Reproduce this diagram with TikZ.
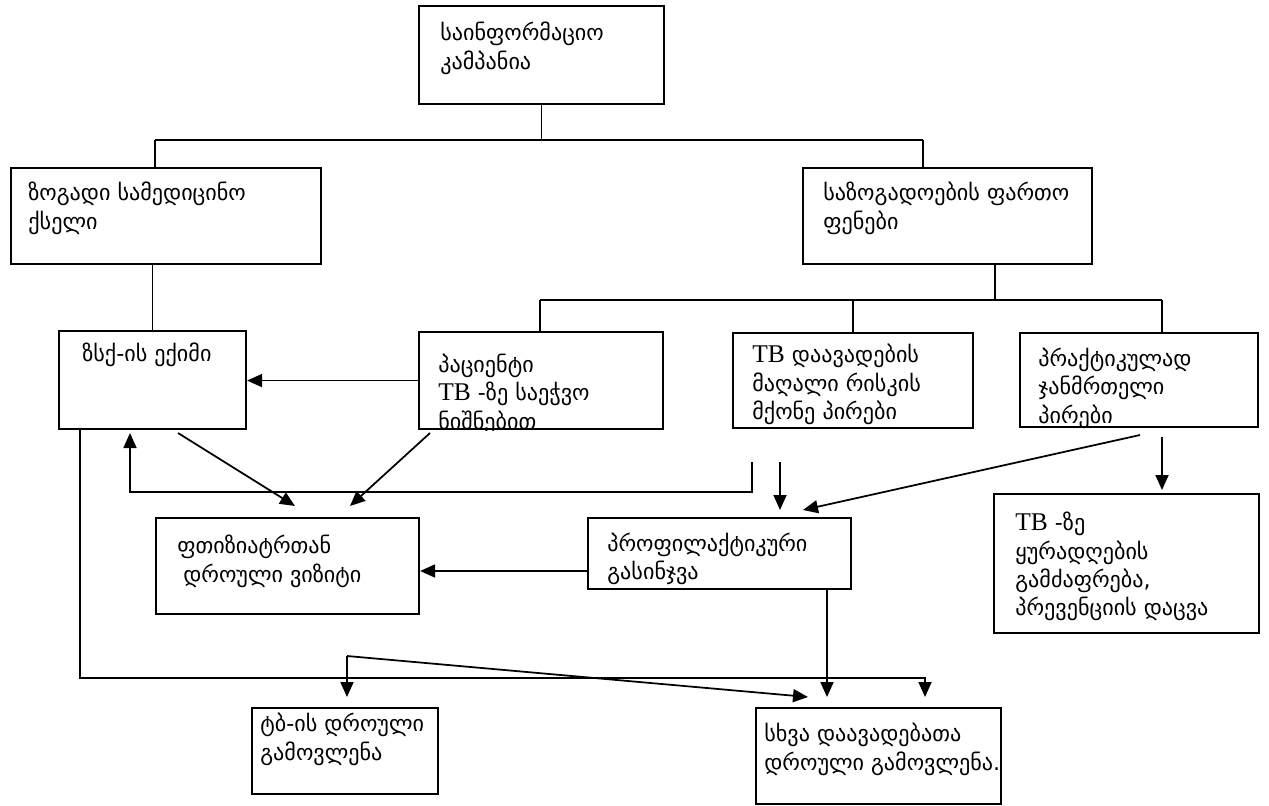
\documentclass[tikz,border=0pt]{standalone}
\usepackage{fontspec}
\setmainfont{Liberation Serif}
\newfontfamily\geofont{DejaVu Sans}
\newcommand{\tbname}{{\rmfamily\fontsize{14.5}{16}\selectfont TB}}
\usetikzlibrary{arrows.meta}

\begin{document}
\begin{tikzpicture}

      \tikzset{box/.style={draw, line width=1.2pt, anchor=north west, inner sep=0pt},
               txt/.style={anchor=north west, inner sep=0pt, align=left, font=\geofont\fontsize{12.6}{16}\selectfont},
               arr/.style={-{Triangle[length=3mm,width=2.6mm]}, line width=1pt},
               ln/.style={line width=1pt}}
      \useasboundingbox (0,0) rectangle (25.38,-16.1);
% Boxes
	%top
      	\node[box, minimum width=4.9cm, minimum height=1.96cm] (kampania) at (8.36,-0.10) {};
      	\node[box, minimum width=6.2cm, minimum height=1.92cm] (qseli) at (0.2,-3.34) {};
    	\node[box, minimum width=5.78cm, minimum height=1.92cm] (fenebi) at (16.04,-3.34) {};
	%middle
  	    \node[box, minimum width=3.74cm, minimum height=1.96cm] (eqimi) at (1.16,-6.6) {};
  	    \node[box, minimum width=4.88cm, minimum height=1.94cm] (pacienti) at (8.36,-6.62) {};
  	    \node[box, minimum width=4.8cm, minimum height=1.9cm] (riski) at (14.64,-6.64) {};
  	    \node[box, minimum width=4.76cm, minimum height=1.88cm] (janmrteli) at (20.38,-6.64) {};
		\node[box, minimum width=5.26cm, minimum height=1.92cm] (vizit) at (3.1,-10.34) {};
		\node[box, minimum width=5.26cm, minimum height=1.42cm] (gasinjva) at (11.74,-10.34) {};
		\node[box, minimum width=5.3cm, minimum height=2.78cm] (yuradgeba) at (19.86,-9.86) {};
	%bottom
		\node[box, minimum width=3.72cm, minimum height=1.72cm] (tbgamovlena) at (5.02,-14.14) {};
		\node[box, minimum width=4.9cm, minimum height=1.92cm] (sxvagamovlena) at (15.1,-14.14) {};
% Texts
		\node[txt] (t1) at (8.8,-0.44) {საინფორმაციო\\კამპანია};
		\node[txt] (t2) at (0.56,-3.64) {ზოგადი სამედიცინო\\ქსელი};
		\node[txt] (t3) at (16.46,-3.64) {საზოგადოების ფართო\\ფენები};
		\node[txt] (t4) at (1.64,-6.86) {ზსქ-ის ექიმი};
		\begin{scope}
		\clip (pacienti.north west) rectangle (pacienti.south east);
		\node[txt] (t5) at (8.76,-7.08) {პაციენტი\\\tbname{} -ზე საეჭვო\\ნიშნებით};
		\end{scope}
		\node[txt] (t6) at (15.04,-6.88) {\tbname{} დაავადების\\მაღალი რისკის\\მქონე პირები};
		\begin{scope}
		\clip (janmrteli.north west) rectangle (janmrteli.south east);
		\node[txt] (t7) at (20.76,-6.96) {პრაქტიკულად\\ჯანმრთელი\\პირები};
		\end{scope}
		\node[txt] (t8) at (3.54,-10.7) {ფთიზიატრთან\\\hspace{0.12cm}დროული ვიზიტი};
		\node[txt] (t9) at (12.14,-10.66) {პროფილაქტიკური\\გასინჯვა};
		\node[txt] (t10) at (20.3,-10.24) {\tbname{} -ზე\\ყურადღების\\გამძაფრება,\\პრევენციის დაცვა};
		\node[txt] (t11) at (5.2,-14.26) {ტბ-ის დროული\\გამოვლენა};
		\node[txt] (t12) at (15.28,-14.46) {სხვა დაავადებათა\\დროული გამოვლენა.};
% Lines
	%campaign
		\coordinate (b1) at (3.1,-2.8);
		\coordinate (b2) at (18.46,-2.8);
		\draw[ln] (kampania.south) -- (kampania.south |- b1);
		\draw[ln] (b1) -- (b2);
		\draw[ln] (b1) -- (b1 |- qseli.north);
		\draw[ln] (b2) -- (b2 |- fenebi.north);
		\draw[ln] (eqimi.north) -- (eqimi.north |- qseli.south);
	%society
		\coordinate (c0) at (19.9,-6.0);
		\coordinate (c1) at (10.8,-6.0);
		\coordinate (c3) at (23.24,-6.0);
		\draw[ln] (fenebi.south -| c0) -- (c0);
		\draw[ln] (c1) -- (c3);
		\draw[ln] (c1) -- (c1 |- pacienti.north);
		\draw[ln] (riski.north) -- (riski.north |- c1);
		\draw[ln] (c3) -- (c3 |- janmrteli.north);
% Arrows
		\draw[arr] (pacienti.west) -- (pacienti.west -| eqimi.east);
		\coordinate (d1) at (3.56,-8.66);
		\coordinate (h1) at (5.9,-10.12);
		\draw[arr] (d1) -- (h1);
		\coordinate (e1) at (8.6,-8.66);
		\coordinate (h2) at (7.0,-10.12);
		\draw[arr] (e1) -- (h2);
		\coordinate (f1) at (15.04,-9.24);
		\coordinate (f2) at (15.04,-9.84);
		\coordinate (f3) at (2.6,-9.84);
		\coordinate (f5) at (2.6,-8.66);
		\draw[arr] (f1) -- (f2) -- (f3) -- (f5);
		\coordinate (f4) at (15.6,-9.24);
		\coordinate (i1) at (15.6,-10.2);
		\draw[arr] (f4) -- (i1);
		\coordinate (g1) at (22.8,-8.7);
		\coordinate (i2) at (16.06,-10.2);
		\draw[arr] (g1) -- (i2);
		\coordinate (g2) at (23.24,-8.74);
		\coordinate (j1) at (23.24,-9.8);
		\draw[arr] (g2) -- (j1);
		\draw[arr] (gasinjva.west |- 0,-11.42) -- (vizit.east |- 0,-11.42);
		\coordinate (l1) at (16.54,-13.94);
		\draw[arr] (gasinjva.south -| l1) -- (l1);
		\coordinate (k0) at (6.94,-13.12);
		\coordinate (k1) at (6.94,-13.94);
		\coordinate (l2) at (16.16,-13.94);
		\draw[arr] (k0) -- (k1);
		\draw[arr] (k0) -- (l2);
		\coordinate (m1) at (1.6,-13.56);
		\coordinate (m2) at (18.5,-13.56);
		\coordinate (l3) at (18.5,-13.94);
		\draw[arr] (eqimi.south -| m1) -- (m1) -- (m2) -- (l3);

	\end{tikzpicture}
\end{document}
